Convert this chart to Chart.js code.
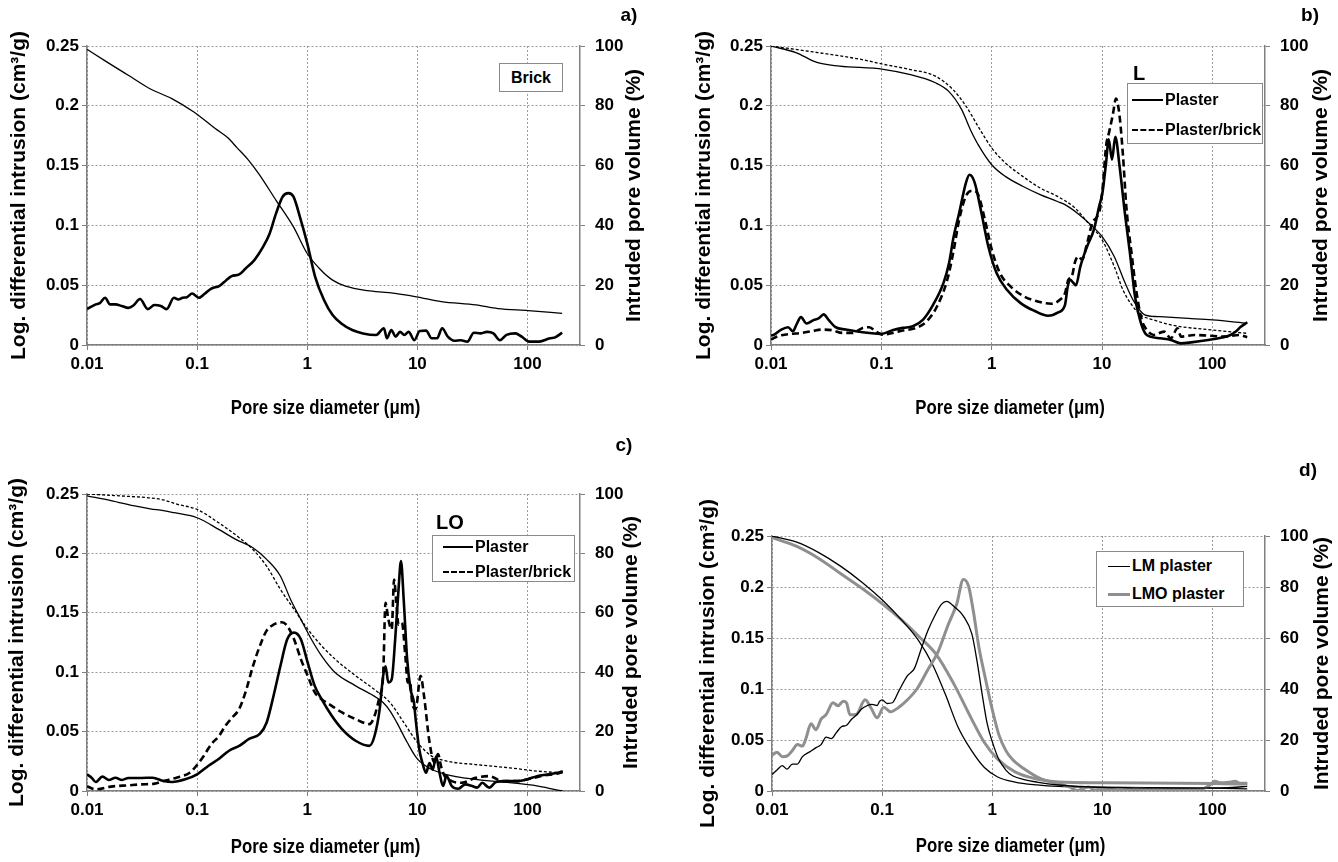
<!DOCTYPE html>
<html>
<head>
<meta charset="utf-8">
<title>Pore size distribution</title>
<script src="https://cdn.jsdelivr.net/npm/chart.js@4.4.1/dist/chart.umd.min.js"></script>
<style>
  body { margin: 0; background: #fff; width: 1338px; height: 862px; position: relative; overflow: hidden;
         font-family: "Liberation Sans", Arial, sans-serif; font-weight: bold; color: #000; }
  canvas { position: absolute; }
  .tag { position: absolute; font-size: 19px; transform: translate(-50%, -50%); z-index: 2; }
  .big { font-size: 20px; }
  .box { position: absolute; box-sizing: border-box; border: 1px solid #8a8a8a; background: #fff; z-index: 2; }
  .row { position: absolute; display: flex; align-items: center; font-size: 16px; white-space: nowrap; transform: translateY(-50%); }
  .sample { display: inline-block; height: 0; margin-right: 2px; }
</style>
</head>
<body>
<canvas id="chartA"></canvas>
<canvas id="chartB"></canvas>
<canvas id="chartC"></canvas>
<canvas id="chartD"></canvas>

<div class="tag" style="left:629px;top:15px">a)</div>
<div class="tag" style="left:1310px;top:15px">b)</div>
<div class="tag" style="left:624px;top:445px">c)</div>
<div class="tag" style="left:1308px;top:470px">d)</div>

<div class="box" style="left:499px;top:63px;width:64px;height:29px;display:flex;align-items:center;justify-content:center;font-size:16px">Brick</div>

<div class="tag big" style="left:1139px;top:73px">L</div>
<div class="box" style="left:1127px;top:83px;width:136px;height:61px">
  <div class="row" style="top:16px;left:4px"><span class="sample" style="width:31px;border-top:2px solid #000"></span>Plaster</div>
  <div class="row" style="top:46px;left:4px"><span class="sample" style="width:31px;border-top:2px dashed #000"></span>Plaster/brick</div>
</div>

<div class="tag big" style="left:450px;top:522px">LO</div>
<div class="box" style="left:432px;top:535px;width:143px;height:47px">
  <div class="row" style="top:11px;left:10px"><span class="sample" style="width:30px;border-top:2px solid #000"></span>Plaster</div>
  <div class="row" style="top:36px;left:10px"><span class="sample" style="width:30px;border-top:2px dashed #000"></span>Plaster/brick</div>
</div>

<div class="box" style="left:1096px;top:551px;width:148px;height:56px">
  <div class="row" style="top:14px;left:11px"><span class="sample" style="width:22px;border-top:1.5px solid #000"></span>LM plaster</div>
  <div class="row" style="top:42px;left:11px"><span class="sample" style="width:22px;border-top:3px solid #8f8f8f"></span>LMO plaster</div>
</div>

<script>
// axis ticks
const xTickValues = [0.01, 0.1, 1, 10, 100];
const xTickLabels = ['0.01', '0.1', '1', '10', '100'];
const yLeftLabels = ['0', '0.05', '0.1', '0.15', '0.2', '0.25'];
const yRightLabels = ['0', '20', '40', '60', '80', '100'];
const xTitle = 'Pore size diameter (\u03bcm)';
const leftTitle = 'Log. differential intrusion (cm\u00b3/g)';
const rightTitle = 'Intruded pore volume (%)';

// a) brick
const aBrickDiffX = [0.01,0.012,0.0131,0.0146,0.0162,0.0181,0.0207,0.0237,0.0264,0.0303,0.0357,0.0409,0.0469,0.0528,0.0616,0.0675,0.0739,0.0809,0.0902,0.1035,0.1164,0.1334,0.16,0.183,0.206,0.241,0.276,0.331,0.397,0.455,0.521,0.598,0.673,0.75,0.859,1.0,1.18,1.42,1.7,2.04,2.56,3.21,4.22,4.97,5.29,5.8,6.35,6.96,7.62,8.34,9.39,10.5,12,13.5,15.1,16.8,18.9,21.7,24.8,28.5,32.6,37.4,42.9,49.1,56.3,64.5,77.4,88.7,103.5,127.6,160,178.5,206.5];
const aBrickDiffY = [0.030,0.034,0.035,0.0395,0.034,0.034,0.0326,0.031,0.033,0.0384,0.030,0.0334,0.0326,0.030,0.0395,0.038,0.0395,0.040,0.043,0.0395,0.0426,0.047,0.0495,0.054,0.0576,0.059,0.064,0.071,0.082,0.093,0.110,0.124,0.127,0.124,0.107,0.085,0.057,0.0376,0.025,0.018,0.0125,0.0097,0.0084,0.014,0.0056,0.0125,0.007,0.011,0.0084,0.011,0.004,0.0117,0.012,0.0056,0.0056,0.014,0.007,0.0036,0.004,0.0028,0.0103,0.0097,0.011,0.0097,0.004,0.0084,0.0097,0.007,0.0028,0.0028,0.0056,0.0064,0.0103];
const aBrickCumX = [0.01,0.0151,0.0237,0.0373,0.0589,0.0927,0.146,0.19,0.23,0.29,0.362,0.521,0.75,1,1.29,1.7,2.23,3.52,5.54,9.8,16.5,34.1,53.8,101.6,206.5];
const aBrickCumY = [98.9,94.7,90.2,85.7,82.4,78,72.4,69.3,66,62,57.3,48.4,39.5,30.6,25.6,21.7,19.7,18.2,17.5,16.1,14.5,13.4,12.2,11.5,10.6];

// b) L
const bPlasterDiffX = [0.01,0.0107,0.0124,0.0143,0.0158,0.017,0.0187,0.021,0.0243,0.027,0.03,0.0334,0.0384,0.0475,0.0587,0.078,0.1,0.126,0.156,0.193,0.239,0.296,0.366,0.411,0.451,0.508,0.586,0.63,0.7,0.807,0.931,1.11,1.38,1.83,2.43,3.24,4.01,4.62,4.89,5.14,5.52,5.8,6.37,7.34,8.46,9.42,10.1,10.9,11.5,12.3,13.2,14.4,16.1,17.9,19.9,22.1,24.6,27.4,33.9,42,52,64.3,91.8,122,146,162,180,207];
const bPlasterDiffY = [0.0079,0.0087,0.0129,0.0149,0.0115,0.0171,0.0233,0.018,0.0208,0.0222,0.0256,0.0208,0.0149,0.0129,0.0115,0.0101,0.0093,0.0124,0.0143,0.0157,0.0213,0.034,0.052,0.0686,0.09,0.1106,0.136,0.1423,0.136,0.1106,0.0826,0.06,0.046,0.035,0.0286,0.0244,0.0272,0.0336,0.049,0.0546,0.0518,0.0499,0.0658,0.0826,0.0966,0.116,0.1275,0.153,0.172,0.155,0.174,0.15,0.1106,0.077,0.0406,0.021,0.0098,0.007,0.0056,0.0042,0.0014,0.0022,0.0042,0.0062,0.0084,0.011,0.015,0.019];
const bBrickDiffX = [0.01,0.0115,0.0143,0.0189,0.0234,0.029,0.0358,0.0442,0.0547,0.0677,0.078,0.0886,0.102,0.126,0.156,0.207,0.259,0.321,0.397,0.45,0.508,0.586,0.676,0.752,0.867,1,1.19,1.48,1.97,2.61,3.47,4.15,4.62,4.96,5.33,5.72,6.14,6.59,7.34,8.17,8.97,9.5,10.1,10.9,11.6,12.5,13.4,14.4,15.5,16.6,18.5,20.6,22.9,25.5,29.4,36.4,42,48.4,52,69,91.8,131,174,207];
const bBrickDiffY = [0.0045,0.0073,0.009,0.0101,0.0115,0.0129,0.0124,0.0101,0.0101,0.0143,0.0149,0.0115,0.0087,0.0101,0.0121,0.0143,0.02,0.0326,0.055,0.078,0.105,0.1247,0.129,0.126,0.105,0.08,0.06,0.049,0.0406,0.0364,0.0345,0.0378,0.0434,0.0546,0.0574,0.07,0.0742,0.0714,0.0854,0.102,0.107,0.112,0.13,0.1667,0.178,0.192,0.206,0.192,0.158,0.116,0.077,0.0434,0.021,0.0126,0.0084,0.0112,0.0056,0.014,0.007,0.0084,0.0078,0.007,0.0084,0.0065];
const bPlasterCumX = [0.01,0.0168,0.0265,0.0418,0.104,0.179,0.309,0.406,0.533,0.64,0.768,1,1.33,1.91,2.75,3.95,4.74,6.22,8.18,10,12.9,16.2,19.5,24.4,32.1,60.6,100,207];
const bPlasterCumY = [100,97.8,94.4,93.3,92.2,90.5,87.7,84.9,78.8,72.1,66.5,60.3,56.4,53.1,50.3,48,46.7,43.6,39.7,36.3,29.6,20.7,14.5,10.1,9.5,8.9,8.4,7.3];
const bBrickCumX = [0.01,0.0265,0.0658,0.104,0.179,0.309,0.444,0.585,0.768,1,1.33,1.91,2.75,3.95,5.69,7.48,10,12.9,15.5,18.6,22.3,29.3,42.2,100,207];
const bBrickCumY = [100,97.8,95.5,93.9,92.2,89.9,85.5,79.9,72.6,65.9,60.9,56.4,52.5,49.7,45.8,40.8,35.2,26.3,18.4,13.4,10.1,8.4,6.7,5,3.9];

// c) LO
const cPlasterDiffX = [0.01,0.011,0.012,0.0138,0.0158,0.0181,0.0208,0.0238,0.0313,0.0394,0.0495,0.0594,0.078,0.1,0.127,0.157,0.195,0.241,0.299,0.371,0.428,0.494,0.57,0.658,0.759,0.875,1.01,1.17,1.35,1.67,2.07,2.75,3.67,4.09,4.55,4.89,5.14,5.45,5.85,6.29,6.75,7.1,7.52,8.08,8.67,9.32,9.65,10.4,11.1,12,12.9,13.8,14.8,15.9,17.1,18.4,20.5,23.6,27.2,31.4,34.9,38.9,44.9,51.8,64.1,79.6,98.6,122,151,188,209];
const cPlasterDiffY = [0.014,0.0112,0.0076,0.0121,0.0093,0.0112,0.0093,0.011,0.011,0.0112,0.0084,0.0076,0.0098,0.014,0.0213,0.0269,0.0339,0.038,0.044,0.048,0.0577,0.08,0.105,0.1277,0.1333,0.1277,0.108,0.0885,0.0773,0.0633,0.0521,0.0423,0.038,0.0465,0.0689,0.0969,0.105,0.0913,0.094,0.1277,0.17,0.1935,0.161,0.111,0.0857,0.0745,0.0605,0.0353,0.024,0.0153,0.0236,0.018,0.029,0.0153,0.0042,0.0125,0.0042,0.0019,0.0056,0.0042,0.0028,0.0069,0.0028,0.0075,0.0083,0.0083,0.0097,0.0125,0.0139,0.0153,0.0167];
const cBrickDiffX = [0.01,0.012,0.0165,0.0238,0.0313,0.0412,0.0495,0.065,0.0857,0.1,0.114,0.127,0.136,0.157,0.181,0.209,0.241,0.279,0.321,0.371,0.428,0.494,0.59,0.658,0.759,0.875,1.01,1.17,1.35,1.67,2.07,2.75,3.67,4.09,4.55,4.89,5.14,5.45,5.85,6.15,6.41,6.75,7.24,7.78,8.18,8.54,8.98,9.65,10.7,11.5,12.9,14.3,15.4,16.5,17.7,20.5,25.4,33.7,44.9,59.7,79.6,106,141,188,209];
const cBrickDiffY = [0.004,0.0014,0.0037,0.0048,0.0056,0.0062,0.0084,0.0112,0.0154,0.022,0.029,0.036,0.04,0.046,0.055,0.062,0.069,0.085,0.105,0.122,0.135,0.14,0.142,0.139,0.1277,0.111,0.0969,0.083,0.0773,0.0717,0.0661,0.0605,0.0563,0.0633,0.08,0.0969,0.1585,0.1445,0.136,0.178,0.161,0.14,0.1417,0.1137,0.0913,0.0927,0.0745,0.0689,0.0969,0.08,0.041,0.024,0.031,0.02,0.0125,0.0083,0.0069,0.0111,0.0125,0.0083,0.0083,0.0103,0.013,0.0147,0.016];
const cPlasterCumX = [0.01,0.0165,0.0286,0.0375,0.0495,0.0619,0.1,0.157,0.224,0.321,0.428,0.57,0.706,0.875,1.09,1.35,1.79,2.75,4.24,4.89,5.64,6.5,8.08,10,13.3,17.7,33.7,69,122,188,209];
const cPlasterCumY = [99.4,97.8,95.8,95,94.4,93.7,92,88.1,84.7,81.9,78,72.4,64.5,57.8,51.1,45.5,39.9,35.4,31.5,29.8,27,23.1,16.4,10.8,7.4,5.7,3.9,2.8,1.7,0.3,0];
const cBrickCumX = [0.01,0.0238,0.0375,0.0495,0.0665,0.1,0.157,0.241,0.321,0.428,0.57,0.759,1.01,1.35,1.79,2.75,4.24,5.64,7.52,10,13.3,17.7,33.7,69,122,209];
const cBrickCumY = [100,99.2,98.7,98,96.5,94.8,90.3,85.3,81.3,75.7,67.9,61.2,54.5,48.9,44.4,38.8,33.7,29.8,23.1,16.4,11.9,10.2,8.9,7.8,6.7,6.1];

// d) LM / LMO
const dLmDiffX = [0.01,0.0111,0.0124,0.0137,0.0153,0.017,0.0189,0.0218,0.0251,0.0279,0.031,0.0345,0.0384,0.0427,0.0475,0.0528,0.0588,0.0654,0.0727,0.0809,0.09,0.095,0.1,0.111,0.124,0.142,0.17,0.196,0.226,0.26,0.3,0.345,0.385,0.459,0.547,0.653,0.727,0.809,0.9,1,1.15,1.33,1.53,2,2.54,4,6.3,10,20,50,100,150,207];
const dLmDiffY = [0.0161,0.0205,0.0249,0.0214,0.0264,0.0264,0.0337,0.0381,0.0425,0.0455,0.0528,0.0513,0.0572,0.063,0.0645,0.0704,0.0748,0.0806,0.0836,0.085,0.0838,0.088,0.0894,0.0858,0.0865,0.0982,0.113,0.12,0.139,0.157,0.1715,0.183,0.186,0.18,0.1715,0.154,0.1276,0.0953,0.066,0.0484,0.0308,0.0205,0.015,0.011,0.0088,0.0059,0.0044,0.0035,0.003,0.0028,0.003,0.0035,0.0045];
const dLmoDiffX = [0.01,0.0111,0.0124,0.0137,0.0153,0.017,0.0189,0.0203,0.0226,0.0251,0.0279,0.031,0.0358,0.0398,0.0443,0.0475,0.051,0.058,0.0702,0.08,0.09,0.1035,0.119,0.142,0.17,0.21,0.26,0.322,0.398,0.475,0.547,0.609,0.678,0.754,0.868,1,1.15,1.33,1.53,1.93,2.78,4,5,5.9,6.9,7.5,8.5,10,15,20,30,50,80,95,105,120,140,160,180,207];
const dLmoDiffY = [0.035,0.0381,0.0337,0.0343,0.0396,0.0455,0.044,0.0513,0.066,0.0601,0.0704,0.0748,0.0865,0.0836,0.088,0.0865,0.0748,0.075,0.0894,0.0806,0.0718,0.0821,0.0777,0.0821,0.0894,0.101,0.1188,0.1364,0.163,0.183,0.2074,0.201,0.1745,0.142,0.11,0.08,0.055,0.0396,0.0308,0.022,0.0118,0.0074,0.004,0.0005,0.003,0.004,0.001,0.002,0.001,0.0025,0.001,0.0015,0.002,0.006,0.0095,0.008,0.0085,0.0095,0.0075,0.0075];
const dLmCumX = [0.01,0.0168,0.0266,0.0419,0.066,0.1,0.15,0.216,0.284,0.373,0.49,0.645,0.849,1.12,1.61,2.54,4,10,24.8,100,207];
const dLmCumY = [100,97.6,93.5,88.2,81.8,75,67.1,58.8,50,38.2,25,16,9.2,5.5,3.5,2.4,1.8,1.5,1.3,1.1,0.8];
const dLmoCumX = [0.01,0.0168,0.0266,0.0419,0.066,0.1,0.15,0.216,0.311,0.448,0.645,0.849,1.12,1.61,2.54,4,10,100,207];
const dLmoCumY = [99.4,95.9,91.2,85.3,79.4,73.5,67.1,60.6,53.5,42,28.5,19,12.5,7.5,4.7,3.5,3.2,2.9,2.7];

const FONT = '"Liberation Sans", Arial, sans-serif';
const AXIS = '#808080';
const GRID = '#9a9a9a';
const GRAY = '#8f8f8f';

const toPoints = (xs, ys) => xs.map((x, i) => ({ x: x, y: ys[i] }));

function series(label, xs, ys, axis, style) {
  return Object.assign({
    label: label,
    data: toPoints(xs, ys),
    yAxisID: axis,
    borderColor: '#000',
    pointRadius: 0,
    fill: false,
    cubicInterpolationMode: 'monotone'
  }, style);
}

const thick = { borderWidth: 2.6 };
const thin = { borderWidth: 1.3 };
const thickDash = { borderWidth: 2.6, borderDash: [7, 4] };
const thinDash = { borderWidth: 1.3, borderDash: [3, 2] };
const grayThick = { borderWidth: 3, borderColor: GRAY };

// right title reads bottom to top and the x title is set condensed,
// so both are drawn here instead of by the scales
const axisTitlePlugin = {
  id: 'axisTitles',
  afterDraw(chart, args, opts) {
    const { ctx, chartArea } = chart;
    ctx.save();
    ctx.font = 'bold 21px ' + FONT;
    ctx.fillStyle = '#000';
    ctx.textAlign = 'center';
    ctx.textBaseline = 'middle';

    ctx.save();
    ctx.translate(opts.rightX, (chartArea.top + chartArea.bottom) / 2);
    ctx.rotate(-Math.PI / 2);
    ctx.fillText(opts.right, 0, 0);
    ctx.restore();

    ctx.save();
    ctx.translate((chartArea.left + chartArea.right) / 2 + opts.bottomShift, opts.bottomY);
    ctx.scale(0.8, 1);
    ctx.fillText(opts.bottom, 0, 0);
    ctx.restore();

    ctx.restore();
  }
};

function buildChart(p) {
  const canvas = document.getElementById(p.id);
  canvas.width = p.w;
  canvas.height = p.h;
  canvas.style.left = p.left + 'px';
  canvas.style.top = p.top + 'px';

  const tickFont = { family: FONT, size: 17, weight: 'bold' };
  const titleFont = { family: FONT, size: 21, weight: 'bold' };

  return new Chart(canvas, {
    type: 'line',
    data: { datasets: p.datasets },
    options: {
      responsive: false,
      animation: false,
      events: [],
      layout: { padding: { top: p.area.t, left: 0, right: 0, bottom: 0 } },
      plugins: {
        legend: { display: false },
        tooltip: { enabled: false },
        axisTitles: { right: rightTitle, rightX: p.rightTitleX, bottom: xTitle, bottomY: p.xTitleY, bottomShift: -8 }
      },
      scales: {
        x: {
          type: 'logarithmic',
          min: 0.01,
          max: 300,
          afterBuildTicks: s => { s.ticks = xTickValues.map(v => ({ value: v })); },
          afterFit: s => { s.height = p.h - p.area.b; },
          ticks: {
            font: tickFont, color: '#000', autoSkip: false, maxRotation: 0, padding: 4,
            callback: v => xTickLabels[xTickValues.indexOf(v)]
          },
          grid: { color: GRID, tickColor: AXIS, tickLength: 5 },
          border: { color: AXIS, width: 1.5, dash: [2, 2] }
        },
        y: {
          position: 'left',
          min: 0,
          max: 0.25,
          afterFit: s => { s.width = p.area.l; },
          ticks: { stepSize: 0.05, font: tickFont, color: '#000', padding: 3, callback: (v, i) => yLeftLabels[i] },
          grid: { color: GRID, tickColor: AXIS, tickLength: 5 },
          border: { color: AXIS, width: 1.5, dash: [2, 2] },
          title: { display: true, text: leftTitle, font: titleFont, color: '#000', padding: { top: p.leftTitlePad, bottom: 0 } }
        },
        y1: {
          position: 'right',
          min: 0,
          max: 100,
          afterFit: s => { s.width = p.w - p.area.r; },
          ticks: { stepSize: 20, font: tickFont, color: '#000', padding: 10, callback: (v, i) => yRightLabels[i] },
          grid: { drawOnChartArea: false, tickColor: AXIS, tickLength: 5 },
          border: { color: AXIS, width: 1.5 }
        }
      }
    },
    plugins: [axisTitlePlugin]
  });
}

const panels = [
  {
    id: 'chartA', left: 0, top: 0, w: 665, h: 430,
    area: { l: 87, r: 580, t: 46, b: 345 }, leftTitlePad: 7, xTitleY: 408, rightTitleX: 634,
    datasets: [
      series('Brick', aBrickDiffX, aBrickDiffY, 'y', thick),
      series('Brick cumulative', aBrickCumX, aBrickCumY, 'y1', thin)
    ]
  },
  {
    id: 'chartB', left: 686, top: 0, w: 652, h: 430,
    area: { l: 85, r: 579, t: 46, b: 345 }, leftTitlePad: 6, xTitleY: 408, rightTitleX: 635,
    datasets: [
      series('Plaster', bPlasterDiffX, bPlasterDiffY, 'y', thick),
      series('Plaster/brick', bBrickDiffX, bBrickDiffY, 'y', thickDash),
      series('Plaster cumulative', bPlasterCumX, bPlasterCumY, 'y1', thin),
      series('Plaster/brick cumulative', bBrickCumX, bBrickCumY, 'y1', thinDash)
    ]
  },
  {
    id: 'chartC', left: 0, top: 430, w: 665, h: 432,
    area: { l: 87, r: 580, t: 64, b: 361 }, leftTitlePad: 5, xTitleY: 417, rightTitleX: 631,
    datasets: [
      series('Plaster', cPlasterDiffX, cPlasterDiffY, 'y', thick),
      series('Plaster/brick', cBrickDiffX, cBrickDiffY, 'y', thickDash),
      series('Plaster cumulative', cPlasterCumX, cPlasterCumY, 'y1', thin),
      series('Plaster/brick cumulative', cBrickCumX, cBrickCumY, 'y1', thinDash)
    ]
  },
  {
    id: 'chartD', left: 686, top: 430, w: 652, h: 432,
    area: { l: 86, r: 579, t: 106, b: 361 }, leftTitlePad: 10, xTitleY: 416, rightTitleX: 636,
    datasets: [
      series('LM plaster', dLmDiffX, dLmDiffY, 'y', thin),
      series('LMO plaster', dLmoDiffX, dLmoDiffY, 'y', grayThick),
      series('LM plaster cumulative', dLmCumX, dLmCumY, 'y1', thin),
      series('LMO plaster cumulative', dLmoCumX, dLmoCumY, 'y1', grayThick)
    ]
  }
];

panels.forEach(buildChart);
</script>
</body>
</html>
